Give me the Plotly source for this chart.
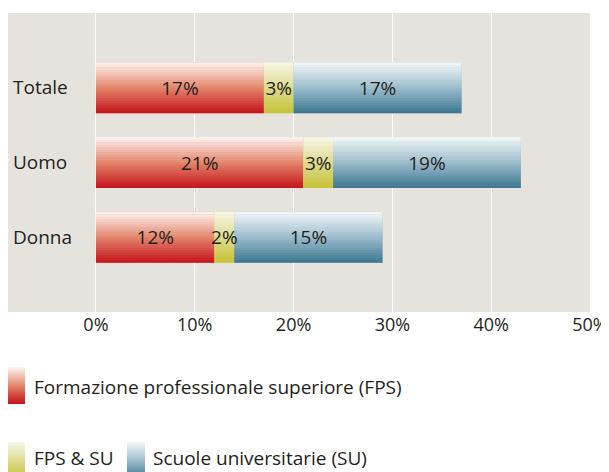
import plotly.graph_objects as go

# ---- data ----
categories = ["Totale", "Uomo", "Donna"]
fps = [17, 21, 12]
fps_su = [3, 3, 2]
su = [17, 19, 15]
series_names = ["Formazione professionale superiore (FPS)", "FPS & SU", "Scuole universitarie (SU)"]
x_tick_values = [0, 10, 20, 30, 40, 50]
x_tick_labels = ["0%", "10%", "20%", "30%", "40%", "50%"]

# ---- style ----
FONT = "Open Sans"
FS = 19
TXT = "#231f20"
BG = "#e6e3dd"
grads = [
    ["#fdf5f2", "#e4866c", "#c4121b"],   # FPS
    ["#f7f7e8", "#dedb8e", "#c6c236"],   # FPS & SU
    ["#f4f8fa", "#9dbdcc", "#3a768f"],   # SU
]
W = 0.68
N = 20

# page body has an 8px margin; the figure is offset by it
OFF = 8
FW, FH = 609 - OFF, 472 - OFF


def hex2rgb(h):
    h = h.lstrip("#")
    return [int(h[i:i + 2], 16) for i in (0, 2, 4)]


def grad_color(stops, t):
    a, m, b = [hex2rgb(s) for s in stops]
    if t <= 0.5:
        u = t / 0.5
        c = [a[k] + (m[k] - a[k]) * u for k in range(3)]
    else:
        u = (t - 0.5) / 0.5
        c = [m[k] + (b[k] - m[k]) * u for k in range(3)]
    return "rgb(%d,%d,%d)" % tuple(round(v) for v in c)


series = [fps, fps_su, su]
bases = []
acc = [0] * len(categories)
for s in series:
    bases.append(list(acc))
    acc = [acc[i] + s[i] for i in range(len(s))]

fig = go.Figure()
for si, s in enumerate(series):
    fig.add_trace(go.Bar(
        y=categories, x=s, base=bases[si], orientation="h",
        width=W, offset=-W / 2, name=series_names[si], showlegend=False,
        marker=dict(color=grads[si][1], line=dict(width=0)), hoverinfo="skip"))
    h = W / N
    for i in range(N):
        t = (i + 0.5) / N
        extra = 0.006 if i < N - 1 else 0
        fig.add_trace(go.Bar(
            y=categories, x=s, base=bases[si], orientation="h",
            width=h + extra, offset=-W / 2 + i * h, showlegend=False,
            marker=dict(color=grad_color(grads[si], t), line=dict(width=0)),
            hoverinfo="skip"))

for si, s in enumerate(series):
    fig.add_trace(go.Bar(
        y=categories, x=s, base=bases[si], orientation="h",
        width=W, offset=-W / 2, showlegend=False, name=series_names[si],
        marker=dict(color="rgba(0,0,0,0)", line=dict(width=0)),
        text=[f"{v}%" for v in s], textposition="inside",
        insidetextanchor="middle", constraintext="none", textangle=0,
        insidetextfont=dict(family=FONT, size=FS, color=TXT),
        hovertemplate="%{y}: %{x}%<extra>" + series_names[si] + "</extra>"))

# ---- plot area in page pixels ----
L, R, T, B = 8, 590, 13, 312


def pxx(p):
    return (p - L) / (R - L)


def pxy(p):
    return (B - p) / (B - T)


shapes = []
legend_items = [(0, 7, 367, 32, 387), (1, 7, 442, 32, 458), (2, 127, 442, 151, 458)]
SW, SH = 18, 37
M = 18
for si, x0, y0, tx, ty in legend_items:
    for i in range(M):
        t = (i + 0.5) / M
        ya = y0 + i * SH / M
        yb = y0 + (i + 1) * SH / M + (0.5 if i < M - 1 else 0)
        shapes.append(dict(type="rect", xref="paper", yref="paper",
                           x0=pxx(x0), x1=pxx(x0 + SW), y0=pxy(yb), y1=pxy(ya),
                           fillcolor=grad_color(grads[si], t), line=dict(width=0),
                           layer="above"))

annotations = []
for si, x0, y0, tx, ty in legend_items:
    annotations.append(dict(text=series_names[si], xref="paper", yref="paper",
                            x=pxx(tx), y=pxy(ty), xanchor="left", yanchor="middle",
                            showarrow=False, font=dict(family=FONT, size=FS, color=TXT)))

fig.update_layout(
    width=FW, height=FH,
    margin=dict(l=L - OFF, r=609 - R, t=T - OFF, b=472 - B, autoexpand=False),
    paper_bgcolor="white", plot_bgcolor=BG,
    barmode="overlay", showlegend=False,
    font=dict(family=FONT, size=FS, color=TXT),
    shapes=shapes, annotations=annotations,
    xaxis=dict(range=[-8.9, 50], tickvals=x_tick_values, ticktext=x_tick_labels,
               showgrid=True, gridcolor="white", gridwidth=1.2, zeroline=False,
               showline=False, ticks="", fixedrange=True, automargin=False,
               tickfont=dict(family=FONT, size=18, color=TXT)),
    yaxis=dict(type="category", categoryorder="array", categoryarray=categories,
               range=[3, -1], showgrid=False, zeroline=False, showline=False,
               ticks="", ticklabelposition="inside", ticklabelstandoff=2,
               automargin=False,
               tickfont=dict(family=FONT, size=FS, color=TXT), fixedrange=True),
)

fig.write_html("out.html")
